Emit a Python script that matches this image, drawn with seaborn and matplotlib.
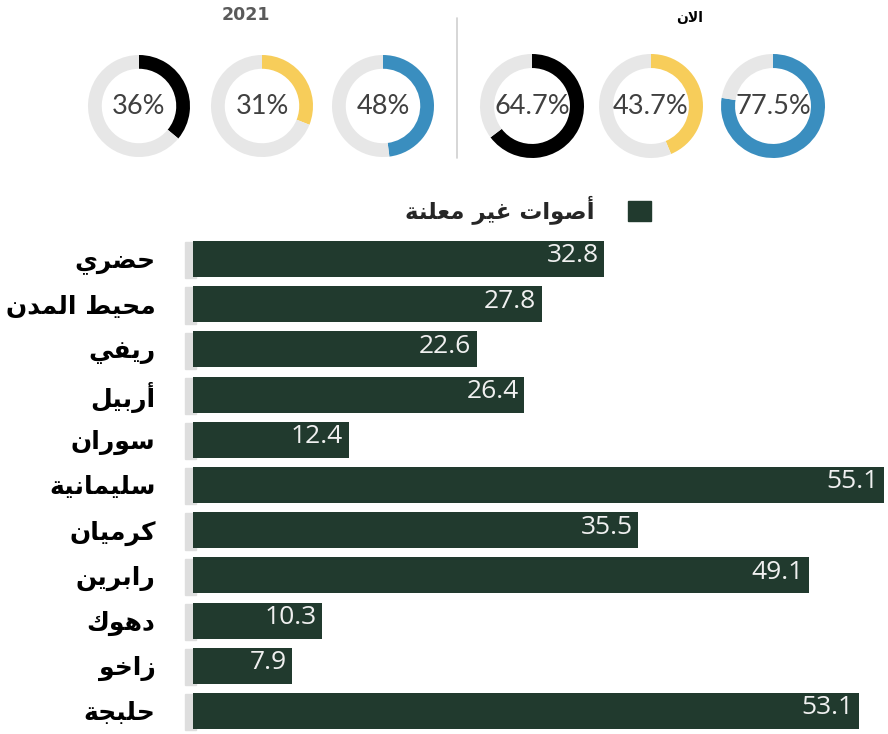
import numpy as np
import pandas as pd
import matplotlib
matplotlib.use('Agg')
import matplotlib.pyplot as plt
from matplotlib.patches import Patch, Rectangle
import seaborn as sns

# data
regions = ['حضري', 'محيط المدن', 'ريفي', 'أربيل', 'سوران', 'سليمانية',
           'كرميان', 'رابرين', 'دهوك', 'زاخو', 'حلبجة']
undeclared = [32.8, 27.8, 22.6, 26.4, 12.4, 55.1, 35.5, 49.1, 10.3, 7.9, 53.1]
legend_label = 'أصوات غير معلنة'

donut_2021 = [36, 31, 48]
donut_now = [64.7, 43.7, 77.5]
donut_labels_2021 = ['36%', '31%', '48%']
donut_labels_now = ['64.7%', '43.7%', '77.5%']
donut_colors = ['#000000', '#f7cd5a', '#3a8ebf']
title_2021 = '2021'
title_now = 'الان'

BAR_COLOR = '#213a2e'
TRACK = '#e7e7e7'

# --- tiny arabic shaper (matplotlib draws glyphs one by one, left to right) ---
# isolated, final, initial, medial
FORMS = {
    'ا': (0xFE8D, 0xFE8E), 'أ': (0xFE83, 0xFE84), 'د': (0xFEA9, 0xFEAA),
    'ر': (0xFEAD, 0xFEAE), 'ز': (0xFEAF, 0xFEB0), 'و': (0xFEED, 0xFEEE),
    'ة': (0xFE93, 0xFE94),
    'ب': (0xFE8F, 0xFE90, 0xFE91, 0xFE92), 'ت': (0xFE95, 0xFE96, 0xFE97, 0xFE98),
    'ج': (0xFE9D, 0xFE9E, 0xFE9F, 0xFEA0), 'ح': (0xFEA1, 0xFEA2, 0xFEA3, 0xFEA4),
    'خ': (0xFEA5, 0xFEA6, 0xFEA7, 0xFEA8), 'س': (0xFEB1, 0xFEB2, 0xFEB3, 0xFEB4),
    'ص': (0xFEB9, 0xFEBA, 0xFEBB, 0xFEBC), 'ض': (0xFEBD, 0xFEBE, 0xFEBF, 0xFEC0),
    'ط': (0xFEC1, 0xFEC2, 0xFEC3, 0xFEC4), 'ع': (0xFEC9, 0xFECA, 0xFECB, 0xFECC),
    'غ': (0xFECD, 0xFECE, 0xFECF, 0xFED0), 'ف': (0xFED1, 0xFED2, 0xFED3, 0xFED4),
    'ك': (0xFED9, 0xFEDA, 0xFEDB, 0xFEDC), 'ل': (0xFEDD, 0xFEDE, 0xFEDF, 0xFEE0),
    'م': (0xFEE1, 0xFEE2, 0xFEE3, 0xFEE4), 'ن': (0xFEE5, 0xFEE6, 0xFEE7, 0xFEE8),
    'ه': (0xFEE9, 0xFEEA, 0xFEEB, 0xFEEC), 'ي': (0xFEF1, 0xFEF2, 0xFEF3, 0xFEF4),
}
LAM_ALEF = {'ا': (0xFEFB, 0xFEFC), 'أ': (0xFEF7, 0xFEF8)}


def shape(text):
    # merge lam + alef into one unit
    units = []
    i = 0
    while i < len(text):
        if text[i] == 'ل' and i + 1 < len(text) and text[i + 1] in LAM_ALEF:
            units.append(('LA', text[i + 1]))
            i += 2
        else:
            units.append((text[i], None))
            i += 1

    def joins_next(u):
        c = u[0]
        return c in FORMS and len(FORMS[c]) == 4

    def is_letter(u):
        return u[0] == 'LA' or u[0] in FORMS

    out = []
    for k, u in enumerate(units):
        prev_j = k > 0 and joins_next(units[k - 1])
        next_l = k + 1 < len(units) and is_letter(units[k + 1])
        if u[0] == 'LA':
            f = LAM_ALEF[u[1]]
            out.append(chr(f[1] if prev_j else f[0]))
            continue
        c = u[0]
        if c not in FORMS:
            out.append(c)
            continue
        f = FORMS[c]
        if len(f) == 2:
            out.append(chr(f[1] if prev_j else f[0]))
        else:
            if prev_j and next_l:
                out.append(chr(f[3]))
            elif prev_j:
                out.append(chr(f[1]))
            elif next_l:
                out.append(chr(f[2]))
            else:
                out.append(chr(f[0]))
    return ''.join(out)[::-1]


sns.set_style('white')
plt.rcParams['font.family'] = ['DejaVu Sans']

W, H = 888, 734
fig = plt.figure(figsize=(W / 100, H / 100), dpi=100)


def px_axes(x0, y0, w, h):
    # pixel box measured from the top-left corner
    return fig.add_axes([x0 / W, 1 - (y0 + h) / H, w / W, h / H])


def donut(cx, cy, value, label, color, r=51):
    ax = px_axes(cx - r, cy - r, 2 * r, 2 * r)
    ax.pie([value, 100 - value], colors=[color, TRACK], startangle=90,
           counterclock=False, radius=1.0,
           wedgeprops=dict(width=0.27, edgecolor='none'))
    ax.set_xlim(-1, 1)
    ax.set_ylim(-1, 1)
    ax.set_aspect('equal')
    ax.axis('off')
    ax.text(0, 0, label, ha='center', va='center', fontsize=19.5,
            color='#404040', family=['Lato', 'DejaVu Sans'])


for cx, v, lab, col in zip([139, 262, 383], donut_2021, donut_labels_2021, donut_colors):
    donut(cx, 106, v, lab, col)
for cx, v, lab, col in zip([532, 651, 773], donut_now, donut_labels_now, donut_colors):
    donut(cx, 106, v, lab, col, r=52)

fig.text(246 / W, 1 - 15 / H, title_2021, ha='center', va='center',
         fontsize=12.5, color='#5a5a5a', fontweight='bold')
fig.text(690 / W, 1 - 18 / H, shape(title_now), ha='center', va='center',
         fontsize=10, color='black', fontweight='bold')
fig.add_artist(plt.Line2D([457 / W, 457 / W], [1 - 18 / H, 1 - 158 / H],
                          color='#d0d0d0', lw=1.2))

# bar chart
df = pd.DataFrame({'region': [shape(r) for r in regions], 'value': undeclared})
ax = px_axes(193, 236.4, 695, 497.2)
sns.barplot(data=df, x='value', y='region', orient='h', color=BAR_COLOR,
            saturation=1, width=0.8, linewidth=0, ax=ax)
ax.set_xlim(0, 55.4)
ax.set_ylim(10.5, -0.5)

for p, v in zip(ax.patches, undeclared):
    # light grey edge strip on the left of each bar
    ax.add_patch(Rectangle((p.get_x() - 0.6, p.get_y() + 0.03), 0.8, p.get_height(),
                           color='#dedede', zorder=0, clip_on=False))
    ax.text(p.get_width() - 0.45, p.get_y() + p.get_height() / 2 - 0.07, f'{v}',
            ha='right', va='center', color='#f0f0f0', fontsize=19,
            family=['Open Sans', 'DejaVu Sans'])

ax.set_xlabel('')
ax.set_ylabel('')
ax.set_xticks([])
ax.tick_params(axis='y', length=0, pad=27)
for t in ax.get_yticklabels():
    t.set_fontsize(18)
    t.set_fontweight('bold')
    t.set_color('black')
sns.despine(ax=ax, left=True, bottom=True)

fig.legend(handles=[Patch(color=BAR_COLOR)], labels=[shape(legend_label)],
           loc='center right', bbox_to_anchor=(672 / W, 1 - 210 / H),
           frameon=False, markerfirst=False, handlelength=1.0, handleheight=1.0,
           handletextpad=1.5, prop=dict(size=16.5, weight='bold'))

fig.savefig('out.png', dpi=100)
